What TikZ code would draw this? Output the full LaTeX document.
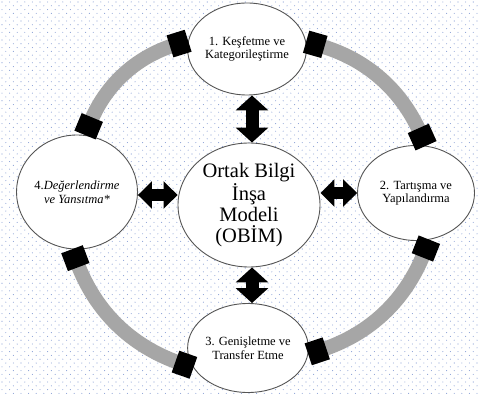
\documentclass[tikz,border=0pt]{standalone}
\usepackage{fontspec}
\setmainfont{Liberation Serif}
\usetikzlibrary{arrows.meta,shapes.geometric}
\definecolor{dotc}{RGB}{140,162,215}
\definecolor{bandc}{RGB}{166,166,166}
\definecolor{edgec}{RGB}{85,85,85}
\begin{document}
\begin{tikzpicture}[x=1pt,y=-1pt,
  stage/.style={ellipse, draw=edgec, line width=0.9pt, fill=white, inner sep=0pt, align=center, font=\fontsize{12.5}{13.5}\selectfont},
  band/.style={draw=bandc, line width=14.5pt, {Rectangle[length=19pt,width=23pt,color=black]}-{Rectangle[length=19pt,width=23pt,color=black]}},
  dlink/.style={line width=13pt, {Triangle[length=15pt,width=32pt]}-{Triangle[length=15pt,width=32pt]}},
  hlink/.style={line width=12pt, {Triangle[length=14pt,width=27pt]}-{Triangle[length=14pt,width=27pt]}}
]
\fill[white] (0,0) rectangle (478,395);
\useasboundingbox (0,0) rectangle (478,395);
\foreach \r in {0,...,103} {
  \pgfmathsetmacro\yy{2+\r*3.8}
  \pgfmathsetmacro\off{mod(\r,2)*3.8}
  \foreach \c in {0,...,62} \fill[dotc] ({\off+2+\c*7.6},\yy) circle[radius=0.55pt];
}
\node[stage, minimum width=110pt, minimum height=92pt] (n1) at (247,49) {1. Keşfetme ve\\Kategorileştirme};
\node[stage, minimum width=117pt, minimum height=95pt] (n2) at (416,193) {2. Tartışma ve\\Yapılandırma};
\node[stage, minimum width=108pt, minimum height=89pt] (n3) at (248,348) {3. Genişletme ve\\Transfer Etme};
\node[stage, minimum width=121pt, minimum height=114pt] (n4) at (77,192) {4.\textit{Değerlendirme}\\\textit{ve Yansıtma*}};
\node[stage, minimum width=142pt, minimum height=124pt, font=\fontsize{20.5}{21}\selectfont] (c) at (249,205) {Ortak Bilgi\\İnşa\\Modeli\\(OBİM)};
\draw[band] (n1.7) to[bend left=25] (n2.78);
\draw[band] (n2.286) to[bend left=25] (n3.354);
\draw[band] (n3.200) to[bend left=25] (n4.265);
\draw[band] (n4.82) to[bend left=25] (n1.172);
\draw[dlink] ([xshift=5pt]n1.south) -- ([xshift=3pt]c.north);
\draw[dlink] ([xshift=3pt]c.south) -- ([xshift=4pt]n3.north);
\draw[hlink] ([yshift=-3pt]n4.east) -- ([yshift=10pt]c.west);
\draw[hlink] ([yshift=12pt]c.east) -- (n2.west);
\end{tikzpicture}
\end{document}
